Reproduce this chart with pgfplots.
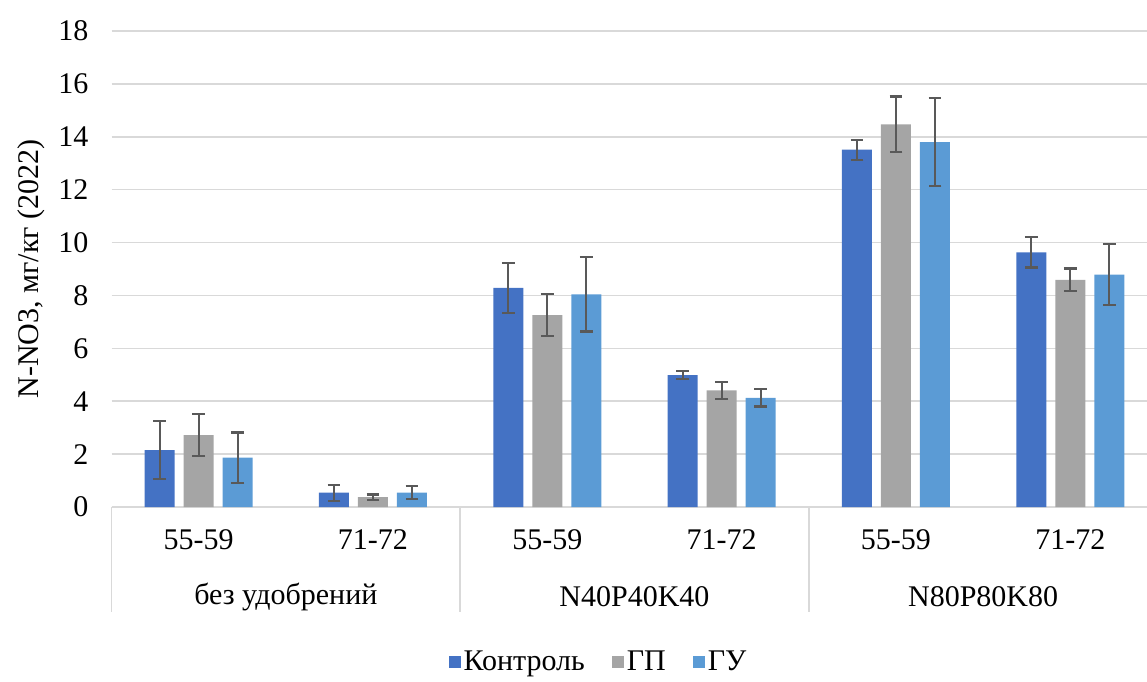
\documentclass[border=0pt]{standalone}
\usepackage{fontspec}
\setmainfont{Liberation Serif}
\usepackage{pgfplots}
\pgfplotsset{compat=1.18}
\usepackage{pgfplotstable}

\definecolor{cK}{HTML}{4472C4}
\definecolor{cGP}{HTML}{A5A5A5}
\definecolor{cGU}{HTML}{5B9BD5}
\definecolor{gridc}{HTML}{D9D9D9}
\definecolor{errc}{HTML}{595959}

\pgfplotstableread{
x y e
0 2.15 1.10
1 0.54 0.30
2 8.29 0.95
3 4.99 0.15
4 13.51 0.38
5 9.63 0.57
}\tK
\pgfplotstableread{
x y e
0 2.72 0.80
1 0.37 0.10
2 7.26 0.80
3 4.41 0.33
4 14.47 1.05
5 8.59 0.43
}\tGP
\pgfplotstableread{
x y e
0 1.87 0.95
1 0.54 0.25
2 8.04 1.40
3 4.13 0.33
4 13.80 1.66
5 8.79 1.15
}\tGU

\pgfplotsset{myerr/.style={error bars/.cd, y dir=both, y explicit,
    error bar style={draw=errc, line width=1.1pt},
    error mark options={rotate=90, mark size=3.2pt, line width=1.1pt, draw=errc}}}

\begin{document}
\begin{tikzpicture}[font=\fontsize{15}{18}\selectfont]
\useasboundingbox (0,0) rectangle (573.5pt,340.5pt);
\begin{axis}[
  at={(55.75pt,87pt)}, anchor=south west,
  scale only axis, width=517.75pt, height=238pt,
  ymin=0, ymax=18, ytick={0,2,...,18},
  yticklabel={\pgfmathprintnumber{\tick}},
  xmin=-0.5, xmax=5.44,
  xtick={0,...,5},
  xticklabels={},
  axis lines*=left,
  separate axis lines,
  y axis line style={draw=none},
  x axis line style={draw=gridc, line width=0.75pt},
  ymajorgrids, grid style={draw=gridc, line width=0.75pt},
  major tick length=0pt,
  ybar=4.5pt, bar width=15pt,
  legend image code/.code={\fill[#1] (0pt,-3pt) rectangle (6pt,3pt);},
  clip=false,
  /pgf/number format/assume math mode=true,
  yticklabel style={xshift=-8pt},
  ylabel={N-NO3, мг/кг (2022)},
  every axis y label/.style={at={(axis description cs:-0.0777,0.5)}, rotate=90, anchor=center},
  legend style={at={(axis description cs:0.4708,-0.326)}, anchor=center, draw=none,
    legend columns=3, /tikz/every even column/.append style={column sep=12pt},
    nodes={inner sep=1.5pt}},
]
\addplot[fill=cK, draw=none, myerr] table[x=x,y=y,y error=e]{\tK};
\addplot[fill=cGP, draw=none, myerr] table[x=x,y=y,y error=e]{\tGP};
\addplot[fill=cGU, draw=none, myerr] table[x=x,y=y,y error=e]{\tGU};
\legend{Контроль, ГП, ГУ}
\draw[gridc, line width=0.75pt] (axis cs:-0.5,0) -- ([yshift=-52.5pt]axis cs:-0.5,0);
\draw[gridc, line width=0.75pt] (axis cs:1.5,0) -- ([yshift=-52.5pt]axis cs:1.5,0);
\draw[gridc, line width=0.75pt] (axis cs:3.5,0) -- ([yshift=-52.5pt]axis cs:3.5,0);
\node at ([yshift=-16.5pt]axis cs:0,0) {55-59};
\node at ([yshift=-16.5pt]axis cs:1,0) {71-72};
\node at ([yshift=-16.5pt]axis cs:2,0) {55-59};
\node at ([yshift=-16.5pt]axis cs:3,0) {71-72};
\node at ([yshift=-16.5pt]axis cs:4,0) {55-59};
\node at ([yshift=-16.5pt]axis cs:5,0) {71-72};
\node at ([yshift=-45pt]axis cs:0.5,0) {без удобрений};
\node at ([yshift=-45pt]axis cs:2.5,0) {N40P40K40};
\node at ([yshift=-45pt]axis cs:4.5,0) {N80P80K80};
\end{axis}
\end{tikzpicture}
\end{document}
